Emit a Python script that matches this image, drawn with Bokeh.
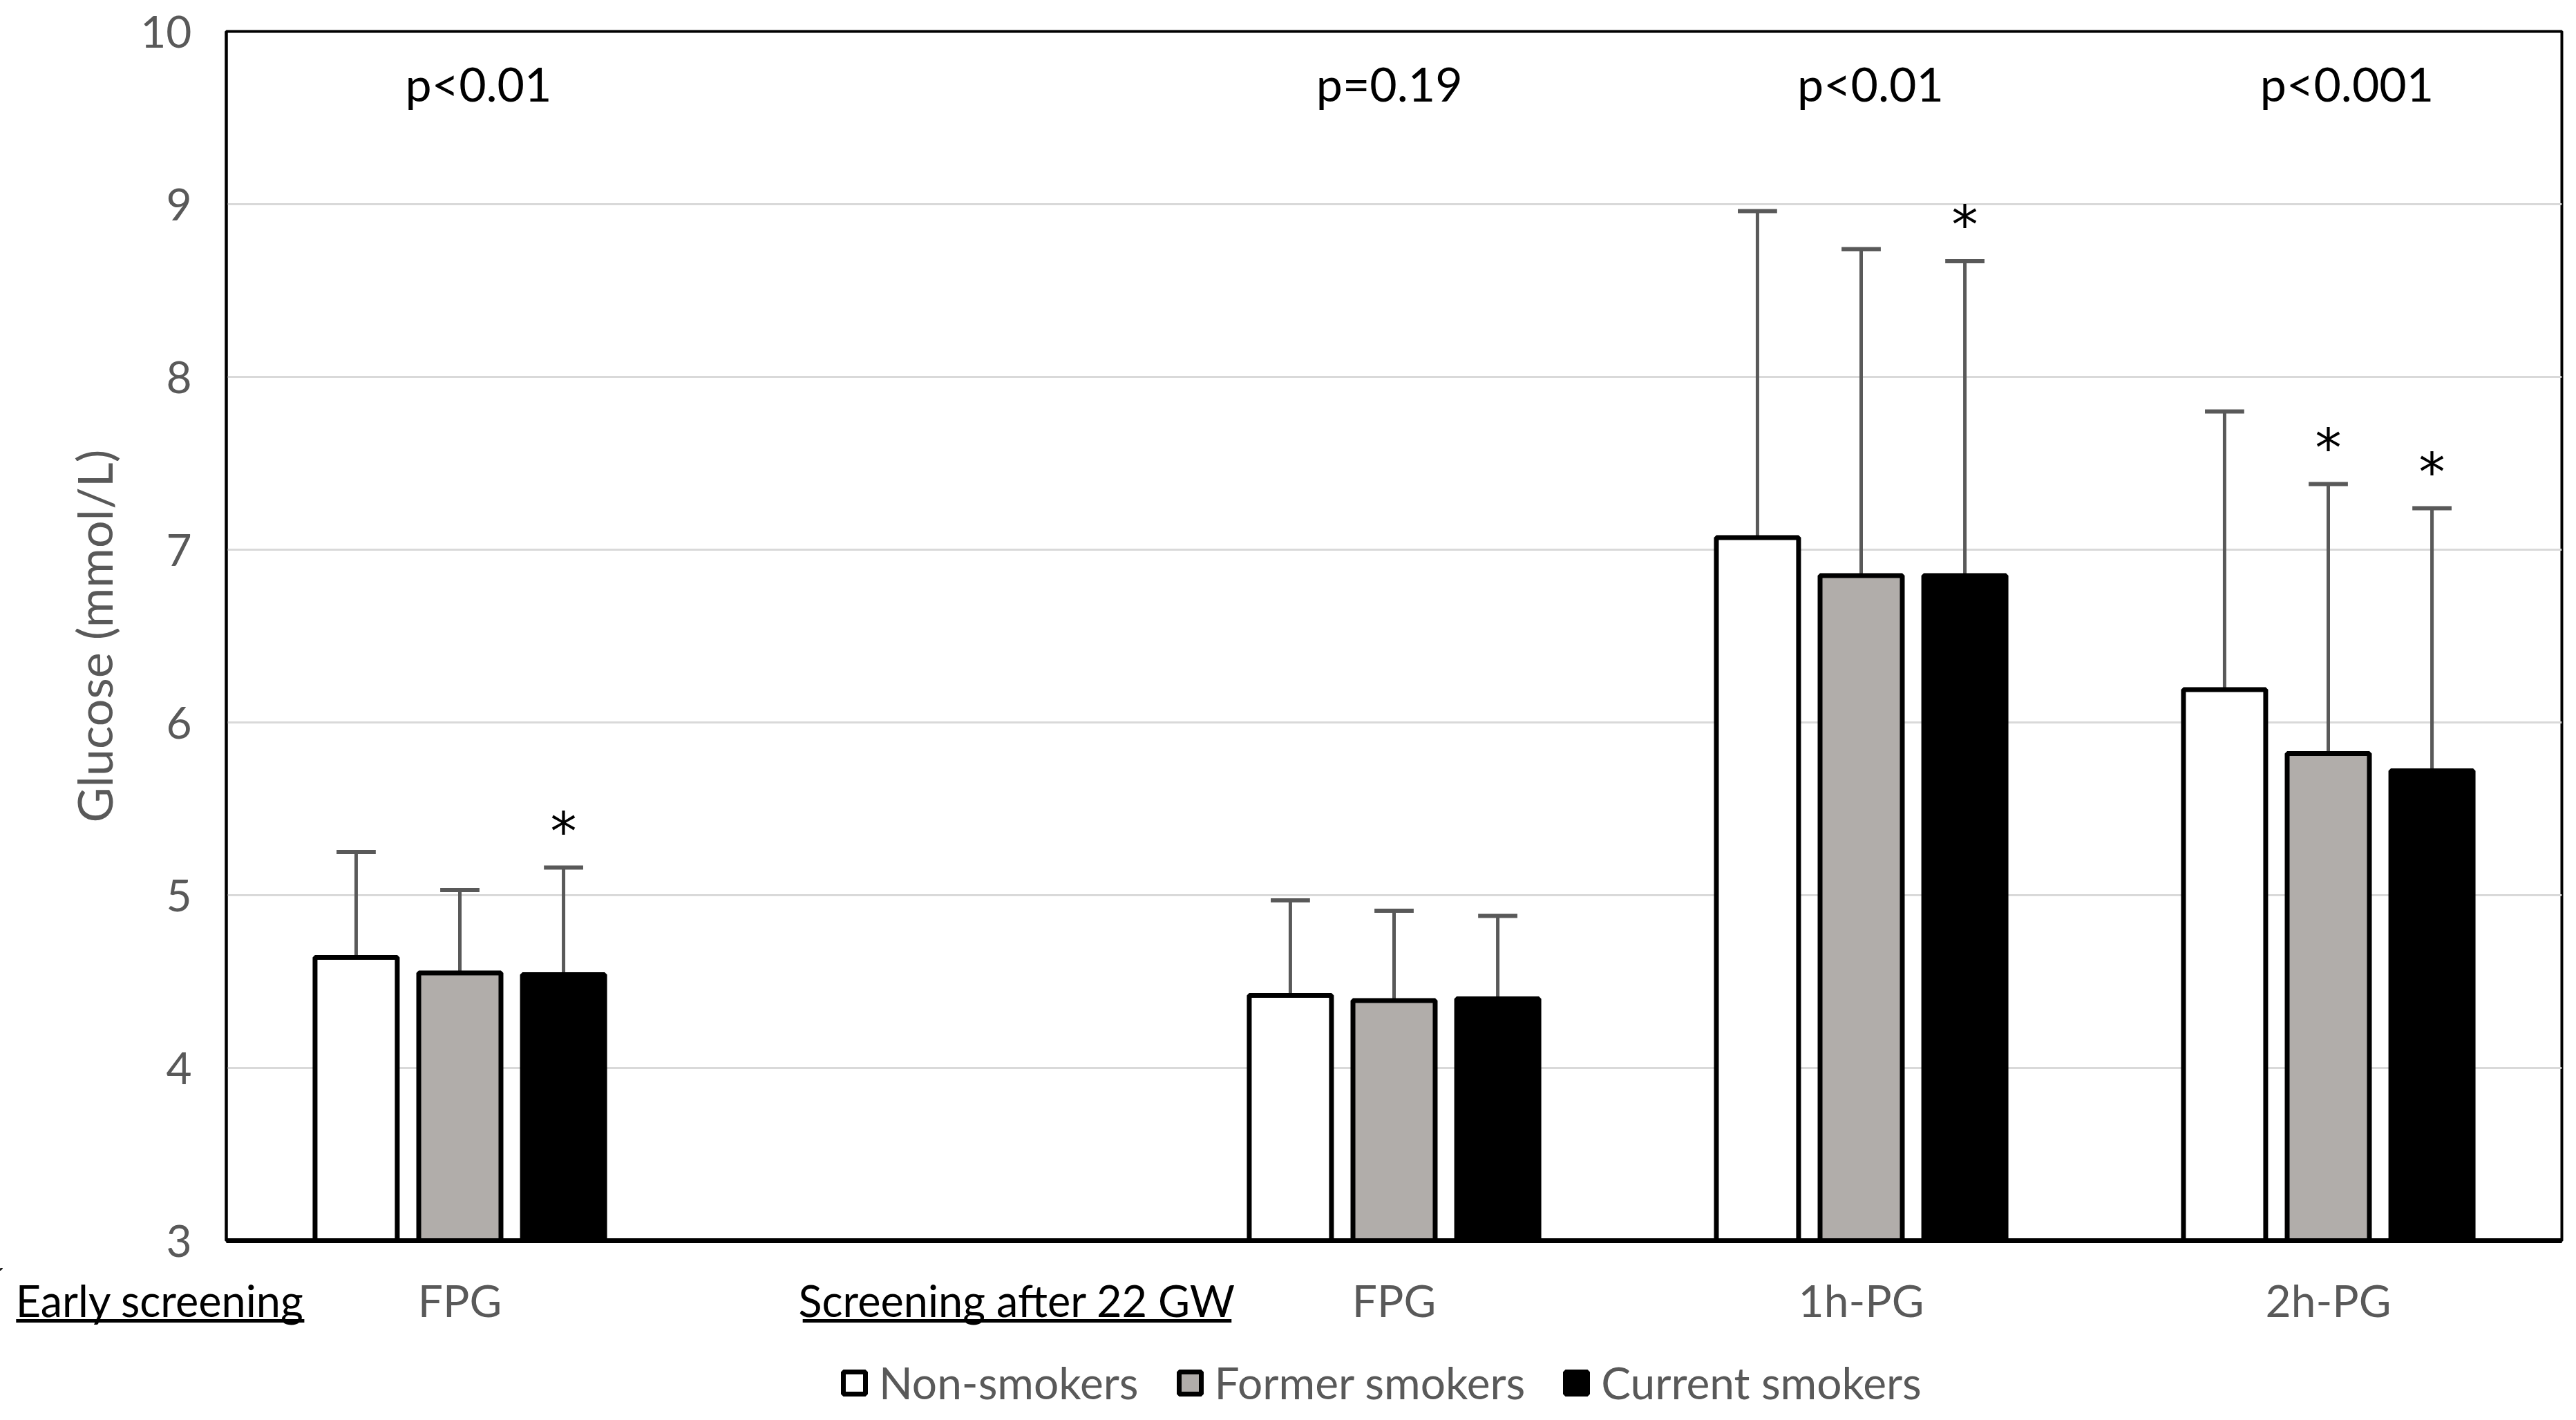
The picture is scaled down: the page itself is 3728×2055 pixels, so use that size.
from bokeh.plotting import figure
from bokeh.models import (Range1d, FixedTicker, Legend, LegendItem, ColumnDataSource)
from bokeh.layouts import column
from bokeh.core.properties import value
from bokeh.embed import file_html
from bokeh.resources import INLINE

# ---------------- data ----------------
categories = ["FPG", "", "FPG", "1h-PG", "2h-PG"]      # category labels (slot 2 empty)
group_slots = [0, 2, 3, 4]                              # slots holding data
series = ["Non-smokers", "Former smokers", "Current smokers"]
non_smokers = [4.64, 4.42, 7.07, 6.19]
former_smokers = [4.55, 4.39, 6.85, 5.82]
current_smokers = [4.54, 4.40, 6.85, 5.72]
non_sd = [0.61, 0.55, 1.89, 1.61]
former_sd = [0.48, 0.52, 1.89, 1.56]
current_sd = [0.62, 0.48, 1.82, 1.52]
former_star = [False, False, False, True]
current_star = [True, False, True, True]
p_values = ["p<0.01", "p=0.19", "p<0.01", "p<0.001"]
section_labels = ["Early screening", "Screening after 22 GW"]

# ---------------- layout / styles ----------------
FONT = "Lato"
GREY_TXT = "#595959"
fills = ["#FFFFFF", "#B1ADAA", "#000000"]
offsets = [-0.222, 0.0, 0.222]
BAR_W = 0.176
CAP = 0.042
p_x = [0.54, 2.49, 3.52, 4.54]
sec_x = [-0.142, 1.693]
sec_span = [(-0.450, 0.167), (1.234, 2.152)]

W = 3712
BL, BR, BT, BB = 327, 5, 45, 40
HM = 1835                      # main figure height
HB = 2039 - HM                 # bottom strip height
PPU = (W - BL - BR) / 5.0      # pixels per x unit

p = figure(width=W, height=HM, output_backend="svg", toolbar_location=None,
           x_range=Range1d(0, 5), y_range=Range1d(3, 10),
           min_border_left=BL, min_border_right=BR, min_border_top=BT,
           min_border_bottom=BB, frame_align=False)
p.background_fill_color = "white"
p.border_fill_color = "white"
p.outline_line_color = "#000000"
p.outline_line_width = 4

p.xaxis.ticker = FixedTicker(ticks=[])
p.xaxis.major_tick_line_color = None
p.xaxis.minor_tick_line_color = None
p.xaxis.major_label_text_font_size = "0px"
p.xaxis.major_label_standoff = 0
p.xaxis.axis_line_color = "#000000"
p.xaxis.axis_line_width = 7

p.yaxis.ticker = FixedTicker(ticks=list(range(3, 11)))
p.yaxis.major_tick_line_color = None
p.yaxis.minor_tick_line_color = None
p.yaxis.axis_line_color = "#000000"
p.yaxis.axis_line_width = 4
p.yaxis.major_label_text_font = FONT
p.yaxis.major_label_text_font_size = "64px"
p.yaxis.major_label_text_color = GREY_TXT
p.yaxis.major_label_standoff = 44
p.yaxis.axis_label = "Glucose (mmol/L)"
p.yaxis.axis_label_text_font = FONT
p.yaxis.axis_label_text_font_size = "70px"
p.yaxis.axis_label_text_font_style = "normal"
p.yaxis.axis_label_text_color = GREY_TXT
p.yaxis.axis_label_standoff = 22

p.xgrid.grid_line_color = None
p.ygrid.grid_line_color = "#D9D9D9"
p.ygrid.grid_line_width = 3

means = [non_smokers, former_smokers, current_smokers]
sds = [non_sd, former_sd, current_sd]
stars = [[False] * 4, former_star, current_star]

for s in range(3):
    xs = [g + 0.5 + offsets[s] for g in group_slots]
    uppers = [m + d for m, d in zip(means[s], sds[s])]
    src = ColumnDataSource(dict(x=xs, top=means[s], up=uppers,
                                cl=[x - CAP for x in xs], cr=[x + CAP for x in xs]))
    p.segment(x0="x", y0="top", x1="x", y1="up", source=src,
              line_color=GREY_TXT, line_width=5)
    p.segment(x0="cl", y0="up", x1="cr", y1="up", source=src,
              line_color=GREY_TXT, line_width=6)
    p.vbar(x="x", top="top", bottom=3, width=BAR_W, source=src,
           fill_color=fills[s], line_color="#000000", line_width=7)
    sx = [x for x, f in zip(xs, stars[s]) if f]
    sy = [u + 0.21 for u, f in zip(uppers, stars[s]) if f]
    if sx:
        p.text(x=sx, y=sy, text=["*"] * len(sx), text_align="center",
               text_baseline="middle", text_font=value("DejaVu Sans"),
               text_font_size="76px", text_color="#000000")

p.text(x=p_x, y=[9.70] * 4, text=p_values,
       text_align="center", text_baseline="middle", text_font=value(FONT),
       text_font_size="68px", text_color="#000000")

# ---------------- bottom strip: category labels, section labels, legend ----------------
b = figure(width=W, height=HB, output_backend="svg", toolbar_location=None,
           x_range=Range1d(-BL / PPU, 5 + BR / PPU), y_range=Range1d(HB, 0),
           x_axis_type=None, y_axis_type=None,
           min_border_left=0, min_border_right=0, min_border_top=0,
           min_border_bottom=0, frame_align=False)
b.outline_line_color = None
b.background_fill_color = "white"
b.border_fill_color = "white"
b.xgrid.visible = False
b.ygrid.visible = False

ROW = 46
b.text(x=[i + 0.5 for i in range(len(categories))], y=[ROW] * len(categories),
       text=categories, text_align="center", text_baseline="middle",
       text_font=value(FONT), text_font_size="64px", text_color=GREY_TXT)
b.text(x=sec_x, y=[ROW] * 2, text=section_labels, text_align="center",
       text_baseline="middle", text_font=value(FONT), text_font_size="63px",
       text_color="#000000")
b.segment(x0=[a for a, _ in sec_span], x1=[c for _, c in sec_span],
          y0=[76, 76], y1=[76, 76], line_color="#000000", line_width=5)

# legend swatches: renderers with the bar styling, kept outside the visible range
dummies = [b.vbar(x=[-100], top=[-100], bottom=-101, width=0.1, fill_color=fills[s],
                  line_color="#000000", line_width=7) for s in range(3)]
legend = Legend(items=[LegendItem(label=series[i], renderers=[dummies[i]])
                       for i in range(3)],
                orientation="horizontal", location=(1216, 0),
                label_text_font=FONT, label_text_font_size="64px",
                label_text_color=GREY_TXT, glyph_width=40, glyph_height=40,
                label_standoff=16, spacing=54, padding=0, margin=0,
                border_line_color=None, background_fill_alpha=0,
                label_height=56)
b.add_layout(legend, "center")

layout = column(p, b, spacing=0)
open("out.html", "w").write(file_html(layout, INLINE))
